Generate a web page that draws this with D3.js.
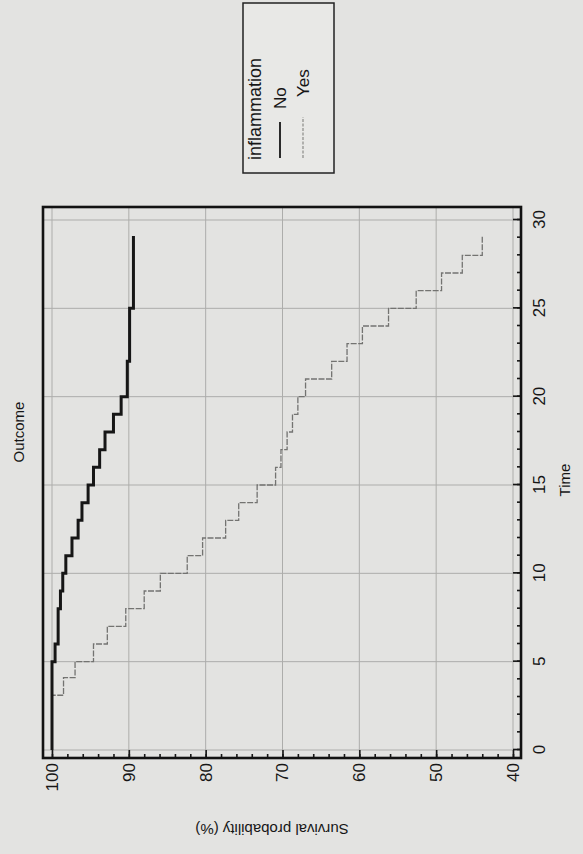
<!DOCTYPE html>
<html>
<head>
<meta charset="utf-8">
<script src="https://cdn.jsdelivr.net/npm/d3@7/dist/d3.min.js"></script>
<style>
  body { margin: 0; background: #e3e3e1; }
  text { font-family: "Liberation Sans", Arial, sans-serif; fill: #161616; }
</style>
</head>
<body>
<div id="chart"></div>
<script>
// Kaplan-Meier steps: event time and survival (%) after it
var noTimes = [0, 5, 6, 8, 9, 10, 11, 12, 13, 14, 15, 16, 17, 18, 19, 20, 22, 25, 29.1];
var noSurv = [100, 99.6, 99.2, 98.9, 98.6, 98.2, 97.4, 96.6, 96.1, 95.3, 94.6, 93.8, 93.1, 92.0, 91.0, 90.2, 89.9, 89.4, 89.4];

var yesTimes = [0, 3.1, 4.1, 5, 6, 7, 8, 9, 10, 11, 12, 13, 14, 15, 16, 17, 18, 19, 20, 21, 22, 23, 24, 25, 26, 27, 28, 29.1];
var yesSurv = [100, 98.5, 97.0, 94.6, 92.8, 90.4, 88.0, 85.9, 82.4, 80.4, 77.4, 75.7, 73.3, 70.9, 70.2, 69.4, 68.7, 68.0, 67.0, 63.6, 61.6, 59.6, 56.2, 52.6, 49.3, 46.6, 44.0, 44.0];

var timeTicks = [0, 5, 10, 15, 20, 25, 30];
var survTicks = [40, 50, 60, 70, 80, 90, 100];
var groupNames = ["No", "Yes"];

var svgWidth = 583;
var svgHeight = 854;

var svg = d3.select("#chart")
  .append("svg")
  .attr("width", svgWidth)
  .attr("height", svgHeight);

// the scanned page is turned a quarter turn, so draw the upright chart and rotate it
var chart = svg.append("g")
  .attr("transform", `translate(0, ${svgHeight}) rotate(-90)`);

// frame edges in the upright chart
var frame = { left: 96, right: 647, top: 43, bottom: 521 };

var xScale = d3.scaleLinear().domain([0, 30]).range([104, 634]);
var yScale = d3.scaleLinear().domain([40, 100]).range([513, 52]);

// grid
chart.append("g")
  .selectAll("line")
  .data(timeTicks)
  .enter()
  .append("line")
  .attr("x1", d => xScale(d))
  .attr("x2", d => xScale(d))
  .attr("y1", frame.top)
  .attr("y2", frame.bottom)
  .attr("stroke", "#adadab")
  .attr("stroke-width", 1);

chart.append("g")
  .selectAll("line")
  .data(survTicks)
  .enter()
  .append("line")
  .attr("x1", frame.left)
  .attr("x2", frame.right)
  .attr("y1", d => yScale(d))
  .attr("y2", d => yScale(d))
  .attr("stroke", "#adadab")
  .attr("stroke-width", 1);

// survival curves
var line = d3.line()
  .x(d => xScale(d[0]))
  .y(d => yScale(d[1]))
  .curve(d3.curveStepAfter);

chart.append("path")
  .datum(d3.zip(yesTimes, yesSurv))
  .attr("d", line)
  .attr("fill", "none")
  .attr("stroke", "#737371")
  .attr("stroke-width", 1.3)
  .attr("stroke-dasharray", "6,1.5");

chart.append("path")
  .datum(d3.zip(noTimes, noSurv))
  .attr("d", line)
  .attr("fill", "none")
  .attr("stroke", "#161616")
  .attr("stroke-width", 3);

// axes, ticks pointing into the plot
chart.append("g")
  .attr("transform", `translate(0, ${frame.bottom})`)
  .call(d3.axisBottom(xScale).tickValues(timeTicks).tickSize(-8).tickPadding(12));

chart.append("g")
  .attr("transform", `translate(0, ${frame.bottom})`)
  .call(d3.axisBottom(xScale).tickValues(d3.range(0, 31)).tickSize(-4).tickFormat(""));

chart.append("g")
  .attr("transform", `translate(${frame.left}, 0)`)
  .call(d3.axisLeft(yScale).tickValues(survTicks).tickSize(-8).tickPadding(5));

chart.append("g")
  .attr("transform", `translate(${frame.left}, 0)`)
  .call(d3.axisLeft(yScale).tickValues(d3.range(40, 101, 2)).tickSize(-4).tickFormat(""));

chart.selectAll(".domain").remove();
chart.selectAll(".tick line").attr("stroke", "#161616").attr("stroke-width", 1.6);
chart.selectAll(".tick text")
  .attr("font-size", "17px")
  .attr("font-family", "'Liberation Sans', Arial, sans-serif")
  .attr("fill", "#161616");

// frame
chart.append("rect")
  .attr("x", frame.left)
  .attr("y", frame.top)
  .attr("width", frame.right - frame.left)
  .attr("height", frame.bottom - frame.top)
  .attr("fill", "none")
  .attr("stroke", "#121212")
  .attr("stroke-width", 2.6);

// titles
chart.append("text")
  .attr("x", 422)
  .attr("y", 24)
  .attr("text-anchor", "middle")
  .attr("font-size", "15px")
  .text("Outcome");

chart.append("text")
  .attr("x", 374)
  .attr("y", 570)
  .attr("text-anchor", "middle")
  .attr("font-size", "15px")
  .text("Time");

chart.append("text")
  .attr("transform", "translate(30, 272) rotate(-90)")
  .attr("text-anchor", "middle")
  .attr("font-size", "15px")
  .text("Survival probability (%)");

// legend
var legend = chart.append("g");

legend.append("rect")
  .attr("x", 681)
  .attr("y", 243)
  .attr("width", 170)
  .attr("height", 91)
  .attr("fill", "#e8e8e6")
  .attr("stroke", "#222222")
  .attr("stroke-width", 1.5);

legend.append("text")
  .attr("x", 694)
  .attr("y", 261)
  .attr("font-size", "18px")
  .text("inflammation");

var legendItems = legend.selectAll(".item")
  .data(groupNames)
  .enter()
  .append("g")
  .attr("class", "item")
  .attr("transform", (d, i) => `translate(0, ${280 + i * 23})`);

legendItems.append("line")
  .attr("x1", 696)
  .attr("x2", (d, i) => i === 0 ? 732 : 737)
  .attr("y1", 0)
  .attr("y2", 0)
  .attr("stroke", (d, i) => i === 0 ? "#161616" : "#8a8a88")
  .attr("stroke-width", (d, i) => i === 0 ? 1.8 : 1.2)
  .attr("stroke-dasharray", (d, i) => i === 0 ? null : "3,1.5");

legendItems.append("text")
  .attr("x", (d, i) => i === 0 ? 745 : 757)
  .attr("y", 6)
  .attr("font-size", "17px")
  .text(d => d);
</script>
</body>
</html>
